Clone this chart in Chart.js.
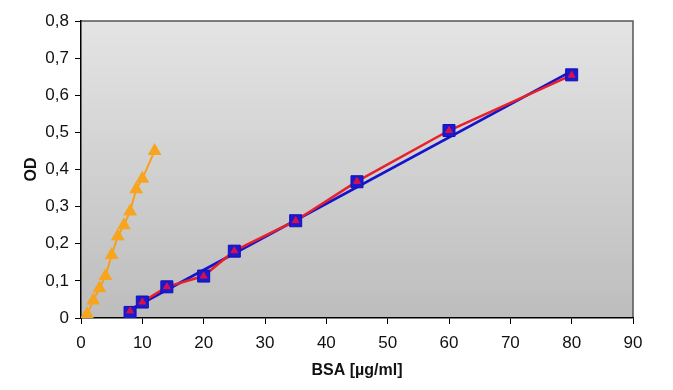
<!DOCTYPE html>
<html>
<head>
<meta charset="utf-8">
<script src="https://cdn.jsdelivr.net/npm/chart.js@4.4.1/dist/chart.umd.min.js"></script>
<style>
  html, body { margin: 0; padding: 0; background: #fff; }
  #wrap { width: 673px; height: 390px; }
</style>
</head>
<body>
<div id="wrap"><canvas id="odChart" width="673" height="390"></canvas></div>
<script>
// BSA standard curve
const bsaX = [8, 10, 14, 20, 25, 35, 45, 60, 80];
const odMeasured = [0.019, 0.043, 0.084, 0.113, 0.181, 0.262, 0.368, 0.505, 0.654];
const odSquares = [0.015, 0.043, 0.084, 0.113, 0.180, 0.262, 0.367, 0.505, 0.655];
const trendX = [8, 80];
const trendY = [0.022, 0.665];
const orangeX = [1, 2, 3, 4, 5, 6, 7, 8, 9, 10, 12];
const orangeY = [0.01, 0.047, 0.08, 0.113, 0.17, 0.22, 0.25, 0.287, 0.347, 0.375, 0.45];
const yTicks = [0, 0.1, 0.2, 0.3, 0.4, 0.5, 0.6, 0.7, 0.8];

function pts(xs, ys) {
  return xs.map((x, i) => ({ x: x, y: ys[i] }));
}

const plotBackground = {
  id: 'plotBackground',
  beforeDraw(chart) {
    const { ctx, chartArea: a } = chart;
    const g = ctx.createLinearGradient(0, a.top, 0, a.bottom);
    g.addColorStop(0, '#e4e4e4');
    g.addColorStop(1, '#bdbdbd');
    ctx.save();
    ctx.fillStyle = g;
    ctx.fillRect(a.left, a.top, a.right - a.left, a.bottom - a.top);
    ctx.strokeStyle = '#555';
    ctx.lineWidth = 1.5;
    ctx.beginPath();
    ctx.moveTo(a.left, a.top);
    ctx.lineTo(a.right, a.top);
    ctx.lineTo(a.right, a.bottom);
    ctx.stroke();
    ctx.restore();
  }
};

const tickFont = { family: 'Liberation Sans, Arial, sans-serif', size: 17 };
const titleFont = { family: 'Liberation Sans, Arial, sans-serif', size: 16, weight: 'bold' };

new Chart(document.getElementById('odChart'), {
  type: 'scatter',
  data: {
    datasets: [
      {
        // red triangles on top of the squares
        label: 'measured points',
        data: pts(bsaX, odMeasured),
        showLine: false,
        pointStyle: 'triangle',
        pointRadius: 4,
        pointBackgroundColor: '#d8104a',
        pointBorderColor: '#d8104a',
        pointBorderWidth: 1
      },
      {
        label: 'squares',
        data: pts(bsaX, odSquares),
        showLine: false,
        pointStyle: 'rect',
        pointRadius: 8.5,
        pointBackgroundColor: '#1a1ad0',
        pointBorderColor: '#1212b8',
        pointBorderWidth: 1
      },
      {
        label: 'measured line',
        data: pts(bsaX, odMeasured),
        showLine: true,
        borderColor: '#e8202a',
        borderWidth: 2.5,
        pointRadius: 0
      },
      {
        label: 'trend',
        data: pts(trendX, trendY),
        showLine: true,
        borderColor: '#1414cc',
        borderWidth: 2.8,
        pointRadius: 0
      },
      {
        label: 'orange',
        data: pts(orangeX, orangeY),
        showLine: true,
        borderColor: '#f5a11c',
        borderWidth: 2,
        pointStyle: 'triangle',
        pointRadius: 6,
        pointBackgroundColor: '#f7a51e',
        pointBorderColor: '#f7a51e'
      }
    ]
  },
  options: {
    responsive: false,
    animation: false,
    layout: { padding: { top: 21, right: 40, bottom: 6, left: 18 } },
    plugins: {
      legend: { display: false },
      tooltip: { enabled: false }
    },
    scales: {
      x: {
        type: 'linear',
        min: 0,
        max: 90,
        ticks: { stepSize: 10, color: '#111', font: tickFont, padding: 9 },
        grid: { display: true, drawOnChartArea: false, drawTicks: true, tickLength: 6, color: '#000' },
        border: { color: '#000', width: 1.5 },
        title: { display: true, text: 'BSA [µg/ml]', color: '#111', font: titleFont, padding: { top: 8 } },
        afterFit(s) { s.height = 66; }
      },
      y: {
        type: 'linear',
        min: 0,
        max: 0.8,
        afterBuildTicks(s) { s.ticks = yTicks.map(v => ({ value: v })); },
        ticks: {
          color: '#111',
          font: tickFont,
          padding: 6,
          callback: v => v === 0 ? '0' : v.toFixed(1).replace('.', ',')
        },
        grid: { display: true, drawOnChartArea: false, drawTicks: true, tickLength: 6, color: '#000' },
        border: { color: '#000', width: 1.5 },
        title: { display: true, text: 'OD', color: '#111', font: titleFont, padding: { top: 4, bottom: 4 } },
        afterFit(s) { s.width = 63; }
      }
    }
  },
  plugins: [plotBackground]
});
</script>
</body>
</html>
